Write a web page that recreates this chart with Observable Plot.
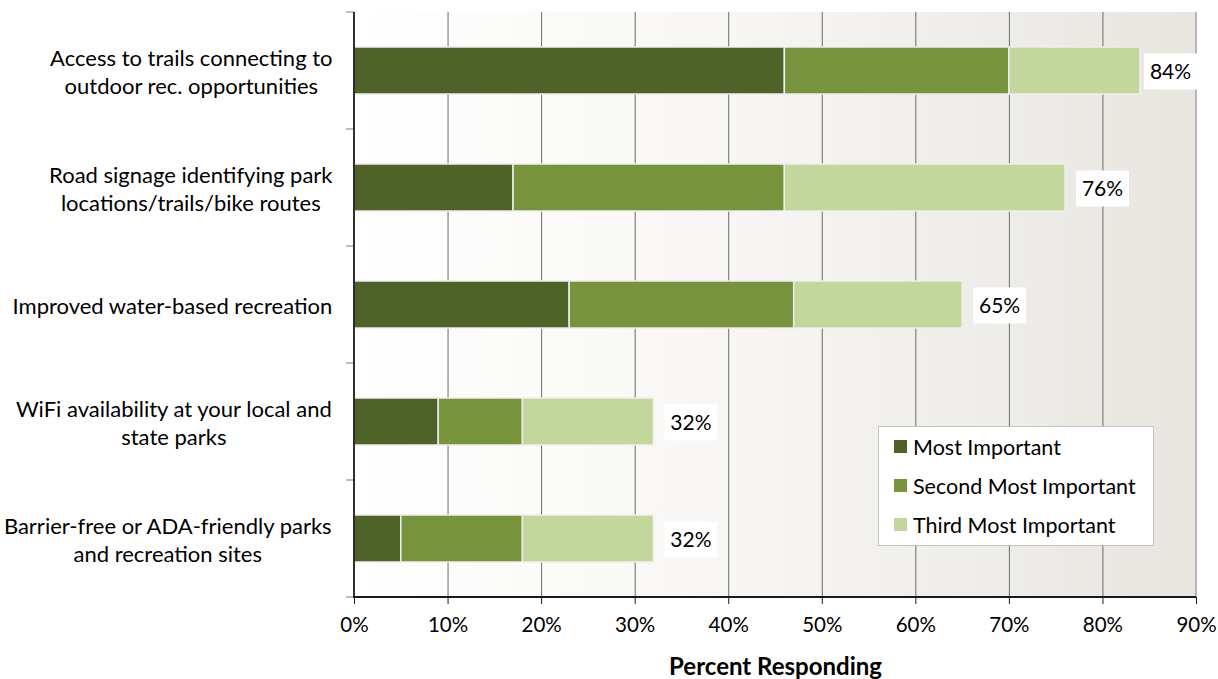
<!DOCTYPE html>
<html><head><meta charset="utf-8">
<script src="https://cdn.jsdelivr.net/npm/d3@7"></script>
<script src="https://cdn.jsdelivr.net/npm/@observablehq/plot@0.6"></script>
<style>
body{margin:0;background:#fff;font-family:Lato,"Open Sans",sans-serif;}
#wrap{position:relative;width:1218px;height:679px;}
#legend{position:absolute;left:878px;top:426px;width:276px;height:120px;background:#fff;border:1.5px solid #c4c4c4;box-sizing:border-box;padding-top:0;}
#legend .row{height:39px;display:flex;align-items:center;padding-left:15px;font-size:21.5px;color:#000;}
#legend .sw{width:13px;height:13px;margin-right:6px;flex:none;}
</style></head><body><div id="wrap"></div>
<script>
const categories = [
  "Access to trails connecting to\noutdoor rec. opportunities",
  "Road signage identifying park\nlocations/trails/bike routes",
  "Improved water-based recreation",
  "WiFi availability at your local and\nstate parks",
  "Barrier-free or ADA-friendly parks\nand recreation sites"
];
const series = ["Most Important", "Second Most Important", "Third Most Important"];
const mostImportant = [46, 17, 23, 9, 5];
const secondMost = [24, 29, 24, 9, 13];
const thirdMost = [14, 30, 18, 14, 14];
const totals = [84, 76, 65, 32, 32];
const xTicks = [0, 10, 20, 30, 40, 50, 60, 70, 80, 90];
const colors = ["#4f6228", "#77933c", "#c3d69b"];

const seriesValues = [mostImportant, secondMost, thirdMost];
const rows = categories.flatMap((c, i) => seriesValues.map((arr, j) => ({category: c, series: series[j], value: arr[i]})));
const totalRows = categories.map((c, i) => ({category: c, total: totals[i]}));

const FONT = "Lato, 'Open Sans', sans-serif";
const LABEL_SIZE = 22;

// measure label widths for centered multi-line category labels
const ctx = document.createElement("canvas").getContext("2d");
ctx.font = `${LABEL_SIZE}px Lato`;
const labelWidth = c => Math.max(...c.split("\n").map(s => ctx.measureText(s).width));

// background gradient of the plot area
const background = (index, scales, values, dims) => {
  const g = d3.create("svg:g");
  const grad = g.append("defs").append("linearGradient").attr("id", "bgGrad").attr("x1", 0).attr("x2", 1).attr("y1", 0).attr("y2", 0);
  grad.append("stop").attr("offset", "0%").attr("stop-color", "#ffffff");
  grad.append("stop").attr("offset", "45%").attr("stop-color", "#f7f6f4");
  grad.append("stop").attr("offset", "100%").attr("stop-color", "#e8e5e0");
  g.append("rect")
    .attr("x", dims.marginLeft).attr("y", dims.marginTop)
    .attr("width", dims.width - dims.marginLeft - dims.marginRight)
    .attr("height", dims.height - dims.marginTop - dims.marginBottom)
    .attr("fill", "url(#bgGrad)");
  return g.node();
};

// axis lines and category boundary ticks
const axes = (index, scales, values, dims) => {
  const g = d3.create("svg:g");
  const top = dims.marginTop, bottom = dims.height - dims.marginBottom;
  const left = scales.x(0), right = scales.x(90);
  const n = categories.length;
  for (let i = 0; i <= n; i++) {
    const y = top + i * (bottom - top) / n;
    g.append("line").attr("x1", left - 8).attr("x2", left).attr("y1", y).attr("y2", y).attr("stroke", "#7a7a7a").attr("stroke-width", 1);
  }
  g.append("line").attr("x1", right).attr("x2", right).attr("y1", top).attr("y2", bottom).attr("stroke", "#8c8c8c").attr("stroke-width", 1.2);
  g.append("line").attr("x1", left).attr("x2", left).attr("y1", top).attr("y2", bottom + 1).attr("stroke", "#1a1a1a").attr("stroke-width", 1.8);
  g.append("line").attr("x1", left - 1).attr("x2", right).attr("y1", bottom).attr("y2", bottom).attr("stroke", "#1a1a1a").attr("stroke-width", 1.8);
  return g.node();
};

// total labels in white boxes, kept inside the plot area
const totalLabels = (index, scales, values, dims) => {
  const g = d3.create("svg:g");
  const right = scales.x(90);
  const bw = 47;
  const boxW = 53, boxH = 36, gap = 11;
  totalRows.forEach(d => {
    const cy = scales.y(d.category) + bw / 2 + 1;
    let x0 = scales.x(d.total) + gap;
    if (x0 + boxW > right + 1) x0 = right + 1 - boxW;
    g.append("rect").attr("x", x0).attr("y", cy - boxH / 2).attr("width", boxW).attr("height", boxH).attr("fill", "#fff");
    g.append("text").attr("x", x0 + boxW / 2).attr("y", cy).attr("dy", "0.35em")
      .attr("text-anchor", "middle").attr("font-size", 21).attr("fill", "#000").text(d.total + "%");
  });
  return g.node();
};

const chart = Plot.plot({
  width: 1218,
  height: 679,
  marginLeft: 354,
  marginRight: 22,
  marginTop: 12,
  marginBottom: 82,
  style: {fontFamily: FONT, fontSize: "20px", color: "#000", background: "transparent"},
  x: {domain: [0, 90], ticks: xTicks, label: null},
  y: {domain: categories, paddingInner: 0.6, paddingOuter: 0.3, axis: null},
  color: {domain: series, range: colors},
  marks: [
    background,
    Plot.gridX(xTicks.filter(t => t > 0 && t < 90), {stroke: "#6b6b6b", strokeOpacity: 1, strokeWidth: 1}),
    Plot.barX(rows, Plot.stackX({x: "value", y: "category", fill: "series", order: series, stroke: "#eeeeee", strokeWidth: 1.5})),
    axes,
    Plot.axisX(xTicks, {tickFormat: d => d + "%", tickSize: 7, tickPadding: 13, fontSize: 20.5, stroke: "#1a1a1a", label: null}),
    ...categories.map(c => Plot.text([c], {
      y: d => d, frameAnchor: "left", text: d => d,
      dx: -(22 + labelWidth(c) / 2), textAnchor: "middle", lineAnchor: "middle",
      lineHeight: 1.27, fontSize: LABEL_SIZE, fill: "#000"
    })),
    totalLabels,
    Plot.text(["Percent Responding"], {frameAnchor: "bottom", lineAnchor: "middle", text: d => d, dy: 70, fontWeight: "bold", fontSize: 24, fill: "#000"})
  ]
});

const wrap = document.getElementById("wrap");
wrap.appendChild(chart);
const legend = document.createElement("div");
legend.id = "legend";
series.forEach((s, i) => {
  const row = document.createElement("div");
  row.className = "row";
  row.innerHTML = `<span class="sw" style="background:${colors[i]}"></span><span>${s}</span>`;
  legend.appendChild(row);
});
wrap.appendChild(legend);
</script>
</body></html>
